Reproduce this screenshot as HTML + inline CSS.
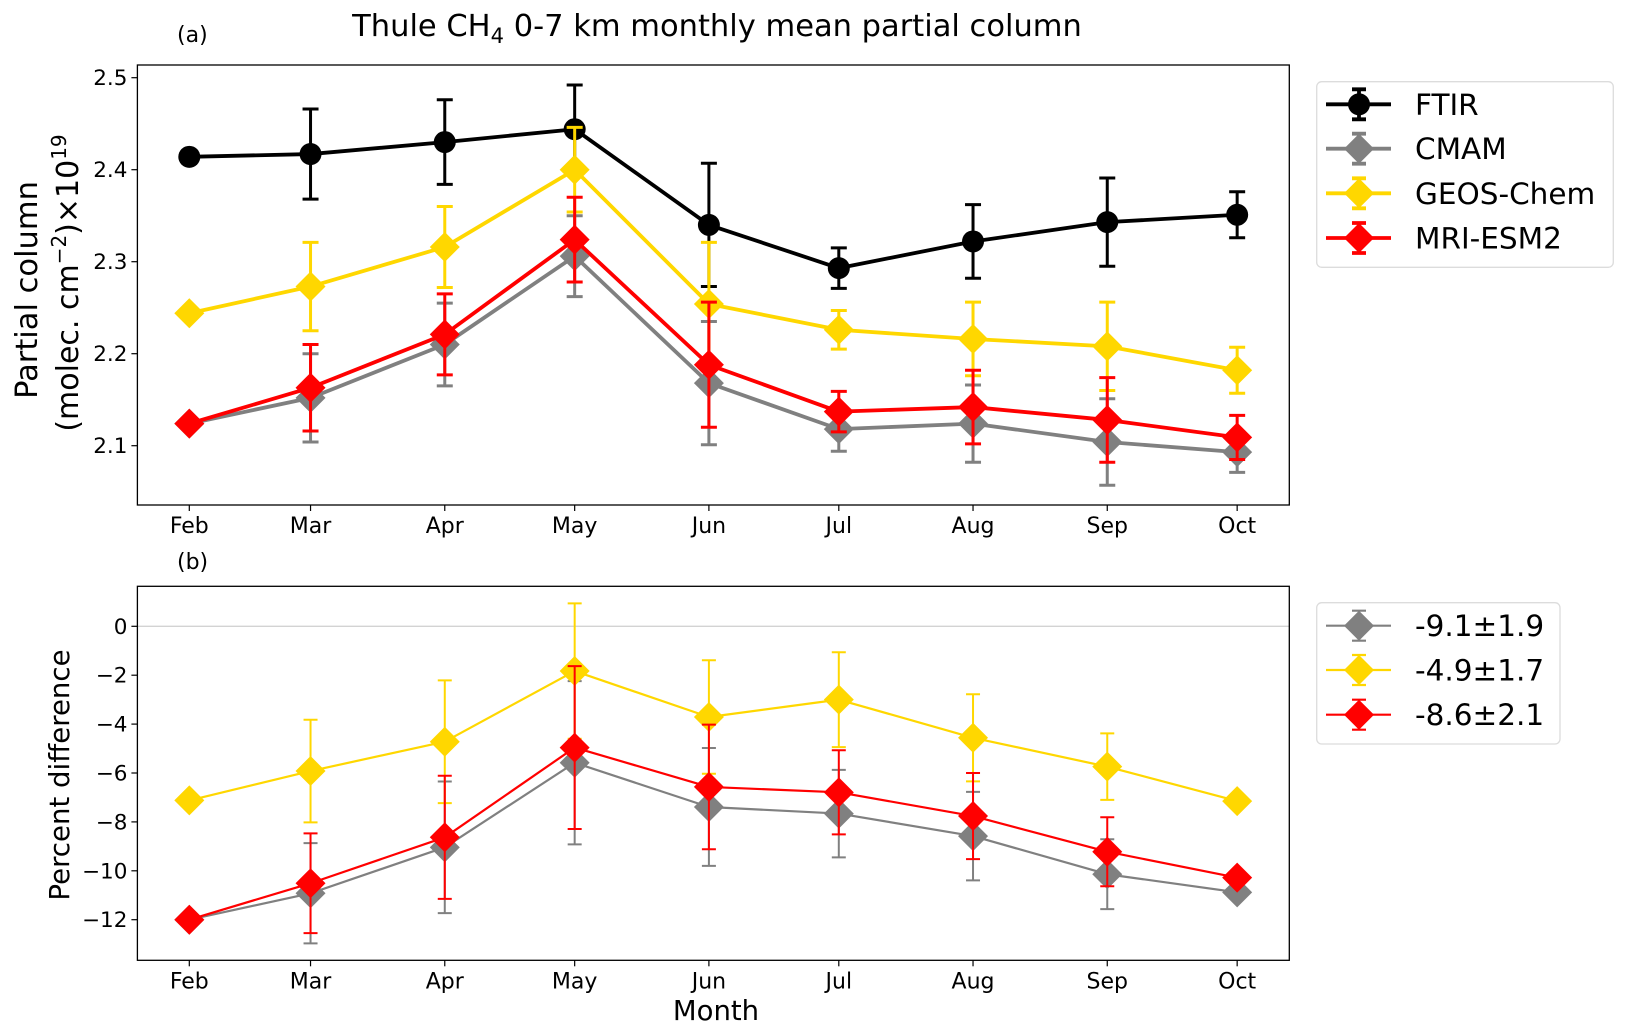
<!DOCTYPE html>
<html><head><meta charset="utf-8">
<style>
html,body{margin:0;padding:0;background:#fff;}
svg{display:block;font-family:"DejaVu Sans","Liberation Sans",sans-serif;}
</style></head>
<body>
<svg id="chart" width="1629" height="1034" viewBox="0 0 1629 1034" xmlns="http://www.w3.org/2000/svg">
<text x="717" y="36" font-size="30.5" text-anchor="middle">Thule CH<tspan font-size="21" dy="7">4</tspan><tspan dy="-7"> 0-7 km monthly mean partial column</tspan></text>
<text x="177" y="42" font-size="22">(a)</text>
<text x="177" y="569" font-size="22">(b)</text>
<text transform="translate(37,290) rotate(-90)" font-size="30.5" text-anchor="middle">Partial column</text>
<text transform="translate(78,283) rotate(-90)" font-size="30" text-anchor="middle">(molec. cm<tspan font-size="20" dy="-12">−2</tspan><tspan dy="12">)×10</tspan><tspan font-size="20" dy="-12">19</tspan></text>
<text transform="translate(69,775) rotate(-90)" font-size="27.6" text-anchor="middle">Percent difference</text>
<text x="716" y="1020" font-size="27.5" text-anchor="middle">Month</text>
<g id="pa"></g>
<g id="pb"></g>
<g id="la"></g>
<g id="lb"></g>
</svg>
<script>
const months = ["Feb","Mar","Apr","May","Jun","Jul","Aug","Sep","Oct"];
const monthDays = [0,28,59,89,120,150,181,212,242];
const ticksA = [2.1,2.2,2.3,2.4,2.5];
const ticksB = [0,-2,-4,-6,-8,-10,-12];
const ftir = [2.414,2.417,2.430,2.444,2.340,2.293,2.322,2.343,2.351];
const ftirErr = [0.003,0.049,0.046,0.048,0.067,0.022,0.040,0.048,0.025];
const cmam = [2.124,2.152,2.210,2.306,2.168,2.118,2.124,2.104,2.093];
const cmamErr = [0,0.048,0.045,0.044,0.067,0.024,0.042,0.047,0.022];
const geos = [2.244,2.273,2.316,2.400,2.254,2.226,2.216,2.208,2.182];
const geosErr = [0,0.048,0.044,0.046,0.067,0.021,0.040,0.048,0.025];
const mri = [2.124,2.163,2.221,2.324,2.188,2.137,2.142,2.128,2.109];
const mriErr = [0,0.047,0.044,0.046,0.068,0.022,0.040,0.046,0.024];
const cmamPct = [-12.0,-10.92,-9.04,-5.58,-7.39,-7.66,-8.58,-10.14,-10.88];
const cmamPctErr = [0,2.05,2.69,3.34,2.41,1.79,1.81,1.43,0];
const geosPct = [-7.12,-5.92,-4.72,-1.83,-3.71,-3.0,-4.56,-5.74,-7.15];
const geosPctErr = [0,2.1,2.51,2.77,2.32,1.94,1.78,1.36,0];
const mriPct = [-12.0,-10.51,-8.63,-4.96,-6.57,-6.79,-7.76,-9.22,-10.28];
const mriPctErr = [0,2.04,2.52,3.33,2.55,1.72,1.76,1.41,0];
const legendA = ["FTIR","CMAM","GEOS-Chem","MRI-ESM2"];
const legendB = ["-9.1±1.9","-4.9±1.7","-8.6±2.1"];

const NS="http://www.w3.org/2000/svg";
function mk(parent,tag,attrs){const e=document.createElementNS(NS,tag);for(const k in attrs)e.setAttribute(k,attrs[k]);parent.appendChild(e);return e;}
const X0=137.4,X1=1289.3;
function xs(d){return 189.3+d*4.33;}
const yA=v=>77.7+(2.5-v)*920;
const yB=v=>626.3-v*24.45;

function frame(g,top,bottom,ticks,ys,fmt,nm){
  ticks.forEach(t=>{
    const y=ys(t);
    const tk=mk(g,"line",{x1:X0-6,x2:X0,y1:y,y2:y,stroke:"#000","stroke-width":1.2});
    
    
    const tl=mk(g,"text",{x:X0-10,y:y+7.5,"font-size":21.5,"text-anchor":"end"});
    tl.textContent=fmt(t);
    
    
  });
  monthDays.forEach((d,i)=>{
    const x=xs(d);
    const tk=mk(g,"line",{x1:x,x2:x,y1:bottom,y2:bottom+6,stroke:"#000","stroke-width":1.2});
    
    
    const tl=mk(g,"text",{x:x,y:bottom+28,"font-size":22,"text-anchor":"middle"});
    tl.textContent=months[i];
    
    
  });
}
function series(g,vals,errs,ys,color,lw,elw,marker,size,cap,nm){
  const pts=vals.map((v,i)=>xs(monthDays[i])+","+ys(v)).join(" ");
  const pl=mk(g,"polyline",{points:pts,fill:"none",stroke:color,"stroke-width":lw,"stroke-linejoin":"round"});
  
  
  vals.forEach((v,i)=>{
    const x=xs(monthDays[i]),y=ys(v);
    if(errs[i]>0){
      const y1=ys(v+errs[i]),y2=ys(v-errs[i]);
      const eb=mk(g,"path",{d:`M${x},${y1}V${y2}M${x-cap},${y1}H${x+cap}M${x-cap},${y2}H${x+cap}`,stroke:color,"stroke-width":elw,fill:"none"});
      
      
    }
    let m;
    if(marker==="o") m=mk(g,"circle",{cx:x,cy:y,r:size,fill:color});
    else m=mk(g,"polygon",{points:`${x},${y-size} ${x+size},${y} ${x},${y+size} ${x-size},${y}`,fill:color});
    
    
  });
}
const pa=document.getElementById("pa");
frame(pa,65,505,ticksA,yA,t=>t.toFixed(1),"panel-a");
series(pa,ftir,ftirErr,yA,"#000",3.8,3,"o",11,8,"ftir");
series(pa,cmam,cmamErr,yA,"#808080",3.8,3,"d",15,8,"cmam");
series(pa,geos,geosErr,yA,"#FFD700",3.8,3,"d",15,8,"geos-chem");
series(pa,mri,mriErr,yA,"#FF0000",3.8,3,"d",15,8,"mri-esm2");
const fa=mk(pa,"rect",{x:X0,y:65,width:X1-X0,height:440,fill:"none",stroke:"#000","stroke-width":1.3});



const pb=document.getElementById("pb");
const zl=mk(pb,"line",{x1:X0,x2:X1,y1:yB(0),y2:yB(0),stroke:"#d3d3d3","stroke-width":1.3});


frame(pb,586.3,960.3,ticksB,yB,t=>t===0?"0":"−"+Math.abs(t),"panel-b");
series(pb,cmamPct,cmamPctErr,yB,"#808080",2.2,2,"d",15,7,"cmam-pct");
series(pb,geosPct,geosPctErr,yB,"#FFD700",2.2,2,"d",15,7,"geos-chem-pct");
series(pb,mriPct,mriPctErr,yB,"#FF0000",2.2,2,"d",15,7,"mri-esm2-pct");
const fb=mk(pb,"rect",{x:X0,y:586.3,width:X1-X0,height:374,fill:"none",stroke:"#000","stroke-width":1.3});



function legend(g,x0,y0,w,h,labels,colors,markers,ys,lw,sz,cap,nm){
  const r=mk(g,"rect",{x:x0,y:y0,width:w,height:h,rx:5,fill:"#fff",stroke:"#dcdcdc","stroke-width":1.3});
  
  
  labels.forEach((lab,i)=>{
    const y=ys[i],c=colors[i];
    const e=mk(g,"g",{});
    
    
    mk(e,"line",{x1:1326,x2:1391,y1:y,y2:y,stroke:c,"stroke-width":lw});
    mk(e,"path",{d:`M1359,${y-15}V${y+15}M${1359-cap},${y-15}H${1359+cap}M${1359-cap},${y+15}H${1359+cap}`,stroke:c,"stroke-width":lw});
    if(markers[i]==="o") mk(e,"circle",{cx:1359,cy:y,r:11,fill:c});
    else mk(e,"polygon",{points:`1359,${y-sz} ${1359+sz},${y} 1359,${y+sz} ${1359-sz},${y}`,fill:c});
    const t=mk(e,"text",{x:1415,y:y+10.5,"font-size":29.5});
    t.textContent=lab;
  });
}
legend(document.getElementById("la"),1316.7,81.7,296.6,185.6,legendA,["#000","#808080","#FFD700","#FF0000"],["o","d","d","d"],[104.3,148.7,193.3,238],3.8,15,7,"legend-a");
legend(document.getElementById("lb"),1316.7,602.7,243.3,141.3,legendB,["#808080","#FFD700","#FF0000"],["d","d","d"],[625.7,670,714.7],2.2,15,7,"legend-b");
</script>
</body></html>
